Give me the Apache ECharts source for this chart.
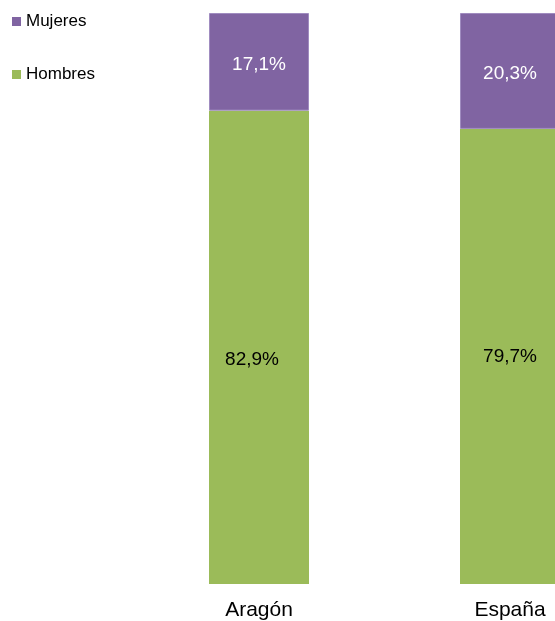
<!DOCTYPE html>
<html>
<head>
<meta charset="utf-8">
<script src="https://cdn.jsdelivr.net/npm/echarts@6/dist/echarts.min.js"></script>
<style>
html,body{margin:0;padding:0;background:#fff;}
#chart{width:555px;height:621px;}
</style>
</head>
<body>
<div id="chart"></div>
<script>
const categories = ['Aragón', 'España'];
const hombres = [82.9, 79.7];
const mujeres = [17.1, 20.3];
const seriesNames = ['Mujeres', 'Hombres'];

const fmt = p => p.value.toFixed(1).replace('.', ',') + '%';
const FONT = '"Liberation Sans", Arial, sans-serif';

const chart = echarts.init(document.getElementById('chart'), null, {renderer: 'canvas'});
chart.setOption({
  animation: false,
  textStyle: {fontFamily: FONT},
  legend: {
    orient: 'vertical',
    left: 7,
    top: 8,
    itemWidth: 9,
    itemHeight: 9,
    itemGap: 36,
    icon: 'rect',
    data: seriesNames,
    itemStyle: {borderWidth: 0},
    textStyle: {fontSize: 17, color: '#000', fontFamily: FONT, lineHeight: 17}
  },
  grid: {left: 259, right: 45, top: 13, bottom: 37, containLabel: false},
  xAxis: {
    type: 'category',
    data: categories,
    boundaryGap: false,
    axisLine: {show: false},
    axisTick: {show: false},
    axisLabel: {fontSize: 21, color: '#000', margin: 16, fontFamily: FONT}
  },
  yAxis: {
    type: 'value', min: 0, max: 100, show: false,
    splitLine: {show: false}
  },
  series: [
    {
      name: 'Hombres', type: 'bar', stack: 'total', barWidth: 100, clip: false,
      data: hombres.map((v, i) => i === 0 ? {value: v, label: {offset: [-7, 12]}} : {value: v}),
      itemStyle: {color: '#9BBB59'},
      label: {show: true, position: 'inside', formatter: fmt, color: '#000', fontSize: 19, fontFamily: FONT}
    },
    {
      name: 'Mujeres', type: 'bar', stack: 'total', barWidth: 100, clip: false,
      data: mujeres,
      itemStyle: {color: '#8064A2', borderColor: '#a08cc0', borderWidth: 1},
      label: {show: true, position: 'inside', offset: [0, 3], formatter: fmt, color: '#fff', fontSize: 19, fontFamily: FONT}
    }
  ]
});
</script>
</body>
</html>
